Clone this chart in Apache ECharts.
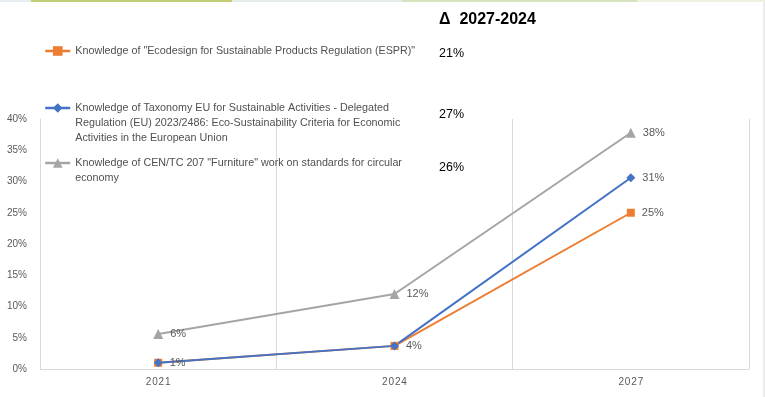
<!DOCTYPE html>
<html>
<head>
<meta charset="utf-8">
<script src="https://cdn.jsdelivr.net/npm/echarts@6/dist/echarts.min.js"></script>
<style>
  html, body { margin: 0; padding: 0; background: #fff; }
  #chart { width: 765px; height: 397px; }
</style>
</head>
<body>
<div id="chart"></div>
<script>
// categories (years)
var years = ['2021', '2024', '2027'];

// series names
var nameEspr = 'Knowledge of "Ecodesign for Sustainable Products Regulation (ESPR)"';
var nameTaxo = 'Knowledge of Taxonomy EU for Sustainable Activities - Delegated Regulation (EU) 2023/2486: Eco-Sustainability Criteria for Economic Activities in the European Union';
var nameCen = 'Knowledge of CEN/TC 207 "Furniture" work on standards for circular economy';

// values in %
var espr = [1.0, 3.7, 25.0];
var taxo = [1.0, 3.7, 30.6];
var cen = [5.6, 12.0, 37.8];

// legend text as it wraps in the picture
var legendLines = {};
legendLines[nameEspr] = [nameEspr];
legendLines[nameTaxo] = [
    'Knowledge of Taxonomy EU for Sustainable Activities - Delegated',
    'Regulation (EU) 2023/2486: Eco-Sustainability Criteria for Economic',
    'Activities in the European Union'
];
legendLines[nameCen] = [
    'Knowledge of CEN/TC 207 "Furniture" work on standards for circular',
    'economy'
];

function delta(arr) {
    return Math.round(arr[2] - arr[1]) + '%';
}

var myChart = echarts.init(document.getElementById('chart'), null, { renderer: 'canvas' });

var fontFam = '"Liberation Sans", Arial, sans-serif';
var LH = 15;

// legend text is centred on the icon, so pad with empty lines on top
// to keep the icon level with the first line
function legendFmt(n) {
    var lines = legendLines[n];
    var pad = [];
    for (var i = 1; i < lines.length; i++) pad.push('');
    return pad.concat(lines).join('\n');
}

function mkLegend(name, firstLineY) {
    var n = legendLines[name].length * 2 - 1;
    return {
        data: [name],
        left: 44,
        top: firstLineY - n * LH / 2,
        padding: 0,
        orient: 'vertical',
        itemWidth: 25,
        itemHeight: 12,
        itemGap: 0,
        selectedMode: false,
        formatter: legendFmt,
        lineStyle: { width: 2.5 },
        textStyle: {
            color: '#505050',
            fontSize: 10.75,
            fontFamily: fontFam,
            lineHeight: LH
        }
    };
}

function mkSeries(name, data, color, symbol, size, hideLabels) {
    return {
        name: name,
        type: 'line',
        data: data,
        symbol: symbol,
        symbolSize: size,
        lineStyle: { color: color, width: 2 },
        itemStyle: { color: color },
        label: {
            show: true,
            position: 'right',
            distance: 7,
            color: '#595959',
            fontSize: 11,
            fontFamily: fontFam,
            formatter: function (p) {
                if (hideLabels.indexOf(p.dataIndex) >= 0) return '';
                return Math.round(p.value) + '%';
            }
        }
    };
}

var option = {
    animation: false,
    backgroundColor: '#ffffff',
    grid: { left: 40, right: 16, top: 119, bottom: 28, containLabel: false },
    legend: [
        mkLegend(nameEspr, 51),
        mkLegend(nameTaxo, 108),
        mkLegend(nameCen, 163)
    ],
    xAxis: {
        type: 'category',
        data: years,
        boundaryGap: true,
        axisLine: { show: true, lineStyle: { color: '#d9d9d9', width: 1 } },
        axisTick: { show: false },
        splitLine: { show: true, lineStyle: { color: '#d9d9d9', width: 1 } },
        axisLabel: {
            color: '#595959',
            fontSize: 10,
            fontFamily: fontFam,
            margin: 8,
            formatter: function (v) { return v.split('').join('\u200a'); }
        }
    },
    yAxis: {
        type: 'value',
        min: 0,
        max: 40,
        interval: 5,
        axisLine: { show: true, lineStyle: { color: '#d9d9d9', width: 1 } },
        axisTick: { show: false },
        splitLine: { show: false },
        axisLabel: {
            color: '#595959',
            fontSize: 10,
            fontFamily: fontFam,
            margin: 13,
            formatter: '{value}%'
        }
    },
    series: [
        mkSeries(nameEspr, espr, '#ed7d31', 'rect', 8, [0, 1]),
        mkSeries(nameTaxo, taxo, '#4472c4', 'diamond', 9, []),
        mkSeries(nameCen, cen, '#a5a5a5', 'triangle', 10, [])
    ],
    graphic: [
        // strip at the top of the picture
        { type: 'rect', shape: { x: 0, y: 0, width: 31, height: 2 }, style: { fill: '#e6edf2' } },
        { type: 'rect', shape: { x: 31, y: 0, width: 201, height: 2 }, style: { fill: '#c3cf72' } },
        { type: 'rect', shape: { x: 232, y: 0, width: 170, height: 2 }, style: { fill: '#e4ecee' } },
        { type: 'rect', shape: { x: 402, y: 0, width: 235, height: 2 }, style: { fill: '#d7e3be' } },
        { type: 'rect', shape: { x: 637, y: 0, width: 128, height: 2 }, style: { fill: '#eef1e2' } },
        { type: 'line', shape: { x1: 764, y1: 2, x2: 764, y2: 397 }, style: { stroke: '#d9d9d9', lineWidth: 1 } },
        // delta column
        {
            type: 'text', left: 439, top: 12,
            style: { text: '\u0394  2027-2024', fill: '#000', font: 'bold 16px ' + fontFam }
        },
        {
            type: 'text', left: 439, top: 47,
            style: { text: delta(espr), fill: '#000', font: '12.5px ' + fontFam }
        },
        {
            type: 'text', left: 439, top: 108,
            style: { text: delta(taxo), fill: '#000', font: '12.5px ' + fontFam }
        },
        {
            type: 'text', left: 439, top: 161,
            style: { text: delta(cen), fill: '#000', font: '12.5px ' + fontFam }
        }
    ]
};

myChart.setOption(option);
</script>
</body>
</html>
